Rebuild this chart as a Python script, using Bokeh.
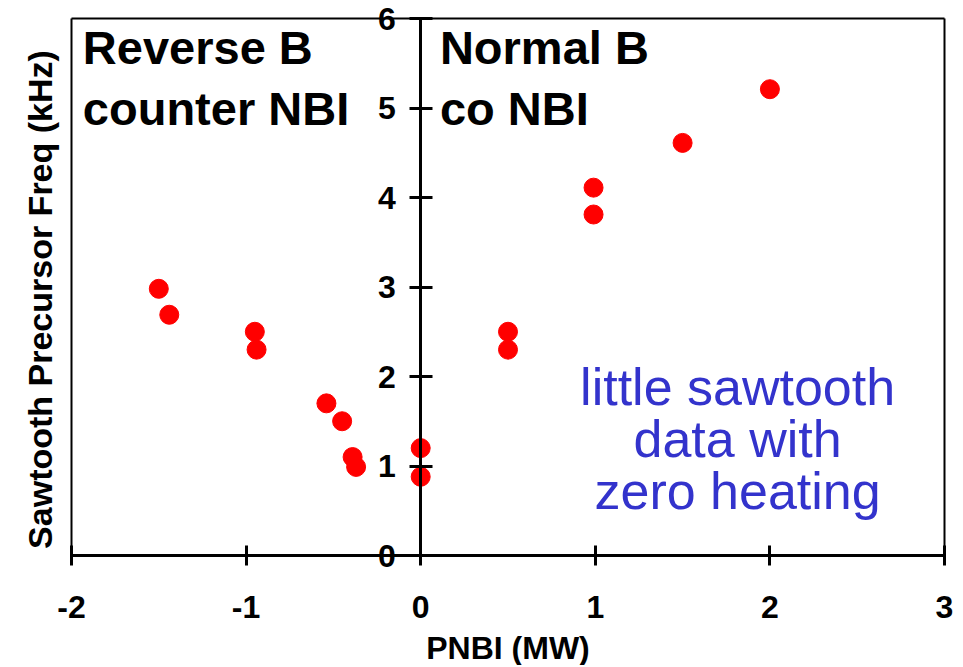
import math
from bokeh.plotting import figure
from bokeh.models import LinearAxis, FixedTicker, Label, ColumnDataSource
from bokeh.embed import file_html
from bokeh.resources import INLINE

# ---- data ----
pnbi = [-1.50, -1.44, -0.95, -0.94, -0.54, -0.45, -0.39, -0.37, 0.0, 0.0,
        0.5, 0.5, 0.99, 0.99, 1.5, 2.0]
freq = [2.98, 2.69, 2.50, 2.30, 1.70, 1.50, 1.10, 0.99, 1.20, 0.88,
        2.50, 2.30, 4.11, 3.81, 4.61, 5.21]
x_ticks = [-2, -1, 0, 1, 2, 3]
y_ticks = [0, 1, 2, 3, 4, 5, 6]
x_tick_labels = {-2: "-2", -1: "-1", 0: "0", 1: "1", 2: "2", 3: "3"}

FONT = "Liberation Sans"
W, H = 958, 665
# pixel geometry of the axes box inside the canvas
PX_LEFT, PX_RIGHT, PX_TOP, PX_BOTTOM = 71, 944, 18, 555
xmin, xmax = x_ticks[0], x_ticks[-1]
ymin, ymax = y_ticks[0], y_ticks[-1]
sx = (PX_RIGHT - PX_LEFT) / (xmax - xmin)
sy = (PX_BOTTOM - PX_TOP) / (ymax - ymin)
x_range = (xmin - PX_LEFT / sx, xmin + (W - PX_LEFT) / sx)
y_range = (ymin - (H - PX_BOTTOM) / sy, ymin + PX_BOTTOM / sy)

p = figure(width=W, height=H, x_range=x_range, y_range=y_range,
           output_backend="svg", toolbar_location=None,
           x_axis_location=None, y_axis_location=None,
           min_border=0, min_border_left=0, min_border_right=0,
           min_border_top=0, min_border_bottom=0)

p.grid.visible = False
p.outline_line_color = None
p.background_fill_color = "white"
p.border_fill_color = "white"

# box around the axes area (top, left, right edges)
p.segment(x0=[xmin, xmin, xmax], y0=[ymax, ymin, ymin],
          x1=[xmax, xmin, xmax], y1=[ymax, ymax, ymax],
          line_color="black", line_width=2)

# x axis through y = 0
xa = LinearAxis(fixed_location=0, ticker=FixedTicker(ticks=x_ticks),
                bounds=(xmin, xmax), axis_label="PNBI (MW)")
xa.major_label_overrides = x_tick_labels
xa.major_tick_in = 10
xa.major_tick_out = 10
xa.minor_tick_line_color = None
xa.axis_line_width = 3
xa.major_tick_line_width = 3
xa.major_label_text_font = FONT
xa.major_label_text_font_style = "bold"
xa.major_label_text_font_size = "32px"
xa.major_label_text_color = "black"
xa.major_label_standoff = 30
xa.axis_label_text_font = FONT
xa.axis_label_text_font_style = "bold"
xa.axis_label_text_font_size = "32px"
xa.axis_label_text_color = "black"
xa.axis_label_standoff = 9
p.add_layout(xa, "below")

# y axis through x = 0
y0 = LinearAxis(fixed_location=0, ticker=FixedTicker(ticks=y_ticks),
                bounds=(ymin, ymax))
y0.major_tick_in = 12
y0.major_tick_out = 11
y0.minor_tick_line_color = None
y0.axis_line_width = 3
y0.major_tick_line_width = 3
y0.major_label_text_font = FONT
y0.major_label_text_font_style = "bold"
y0.major_label_text_font_size = "32px"
y0.major_label_text_color = "black"
y0.major_label_standoff = 14
p.add_layout(y0, "left")

src = ColumnDataSource(dict(x=pnbi, y=freq))
p.scatter("x", "y", source=src, size=19, fill_color="#FF0000", line_color="#FF0000")

ylab = Label(x=-2.18, y=2.86, text="Sawtooth Precursor Freq (kHz)", angle=math.pi / 2,
             text_font=FONT, text_font_style="bold", text_font_size="34px",
             text_color="black", text_align="center", text_baseline="middle")
lab1 = Label(x=-1.935, y=5.975, text="Reverse B\ncounter NBI", text_font=FONT,
             text_font_style="bold", text_font_size="47px", text_color="black",
             text_baseline="top", text_align="left", text_line_height=1.16)
lab2 = Label(x=0.11, y=5.975, text="Normal B\nco NBI", text_font=FONT,
             text_font_style="bold", text_font_size="47px", text_color="black",
             text_baseline="top", text_align="left", text_line_height=1.16)
lab3 = Label(x=1.815, y=2.21, text="little sawtooth\ndata with\nzero heating",
             text_font=FONT, text_font_size="52px", text_color="#3333CC",
             text_baseline="top", text_align="center", text_line_height=0.90)
for lb in (ylab, lab1, lab2, lab3):
    p.add_layout(lb)

open("out.html", "w").write(file_html(p, INLINE))
